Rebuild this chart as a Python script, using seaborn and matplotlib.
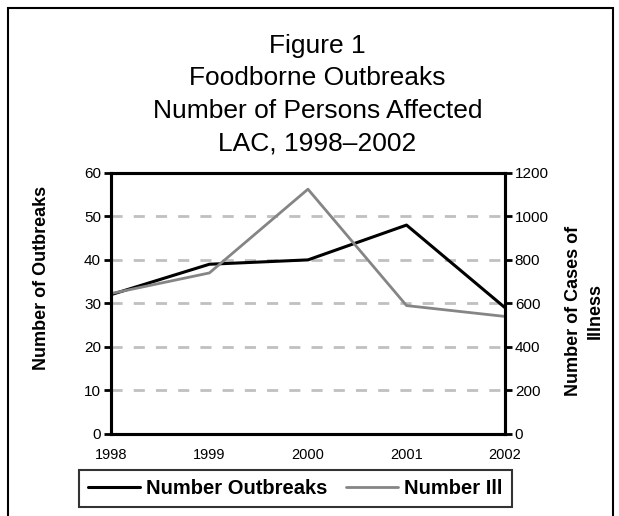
import pandas as pd
import matplotlib
matplotlib.use("Agg")
import matplotlib.pyplot as plt
import matplotlib.patches as mpatches
import seaborn as sns

# Datos
years = [1998, 1999, 2000, 2001, 2002]
outbreaks = [32, 39, 40, 48, 29]
illness = [645, 740, 1125, 590, 540]
left_ticks = [0, 10, 20, 30, 40, 50, 60]
right_ticks = [0, 200, 400, 600, 800, 1000, 1200]

df = pd.DataFrame({"Year": years, "Outbreaks": outbreaks, "Ill": illness})

sns.set_theme(style="white")
plt.rcParams["font.family"] = ["Liberation Sans", "DejaVu Sans"]
plt.rcParams["text.color"] = "black"
plt.rcParams["xtick.color"] = "black"
plt.rcParams["ytick.color"] = "black"
plt.rcParams["axes.labelcolor"] = "black"

fig = plt.figure(figsize=(6.19, 5.16), dpi=100)
ax = fig.add_axes([0.179, 0.159, 0.637, 0.506])
ax2 = ax.twinx()

sns.lineplot(data=df, x="Year", y="Outbreaks", ax=ax, color="black", linewidth=2.2,
             label="Number Outbreaks", legend=False)
sns.lineplot(data=df, x="Year", y="Ill", ax=ax2, color="#858585", linewidth=2,
             label="Number Ill", legend=False)

ax.set_xlim(1998, 2002)
ax.set_ylim(0, 60)
ax2.set_ylim(0, 1200)
ax.set_xticks(years)
ax.set_xticklabels([str(y) for y in years], fontsize=10.5)
ax.set_yticks(left_ticks)
ax.set_yticklabels([str(v) for v in left_ticks], fontsize=11)
ax2.set_yticks(right_ticks)
ax2.set_yticklabels([str(v) for v in right_ticks], fontsize=11)

# lineas de cuadricula discontinuas
for v in left_ticks[1:-1]:
    ax.axhline(v, color="#c0c0c0", linestyle=(0, (4, 4)), linewidth=2, zorder=0)

for a in (ax, ax2):
    for s in a.spines.values():
        s.set_color("black")
        s.set_linewidth(2.2)
ax.tick_params(axis="x", direction="inout", length=10, width=2, color="black", pad=5)
ax.tick_params(axis="y", direction="out", length=5, width=2, color="black", pad=2, left=True)
ax2.tick_params(axis="y", direction="out", length=5, width=2, color="black", pad=2, right=True)

ax.set_xlabel("")
ax.set_ylabel("Number of Outbreaks", fontsize=13, fontweight="bold")
ax.yaxis.set_label_coords(-0.155, 0.598)
ax2.set_ylabel("Number of Cases of\nIllness", fontsize=13, fontweight="bold", linespacing=1.4)
ax2.yaxis.set_label_coords(1.152, 0.47)

fig.text(0.513, 0.935, "Figure 1\nFoodborne Outbreaks\nNumber of Persons Affected\nLAC, 1998\u20132002",
         ha="center", va="top", fontsize=19, linespacing=1.45)

h1, l1 = ax.get_legend_handles_labels()
h2, l2 = ax2.get_legend_handles_labels()
leg = fig.legend(h1 + h2, l1 + l2, loc="center", bbox_to_anchor=(0.477, 0.053), ncol=2,
                 frameon=True, fancybox=False, prop={"weight": "bold", "size": 14.5},
                 handlelength=2.6, columnspacing=0.9, borderpad=0.45, handletextpad=0.3)
leg.get_frame().set_edgecolor("black")
leg.get_frame().set_linewidth(1.5)

# marco exterior
fig.patches.append(mpatches.Rectangle((8 / 619, -0.1), 605 / 619, 1.1 - 8 / 516,
                                      transform=fig.transFigure, fill=False,
                                      edgecolor="black", linewidth=1.5))

fig.savefig("out.png", dpi=100)
